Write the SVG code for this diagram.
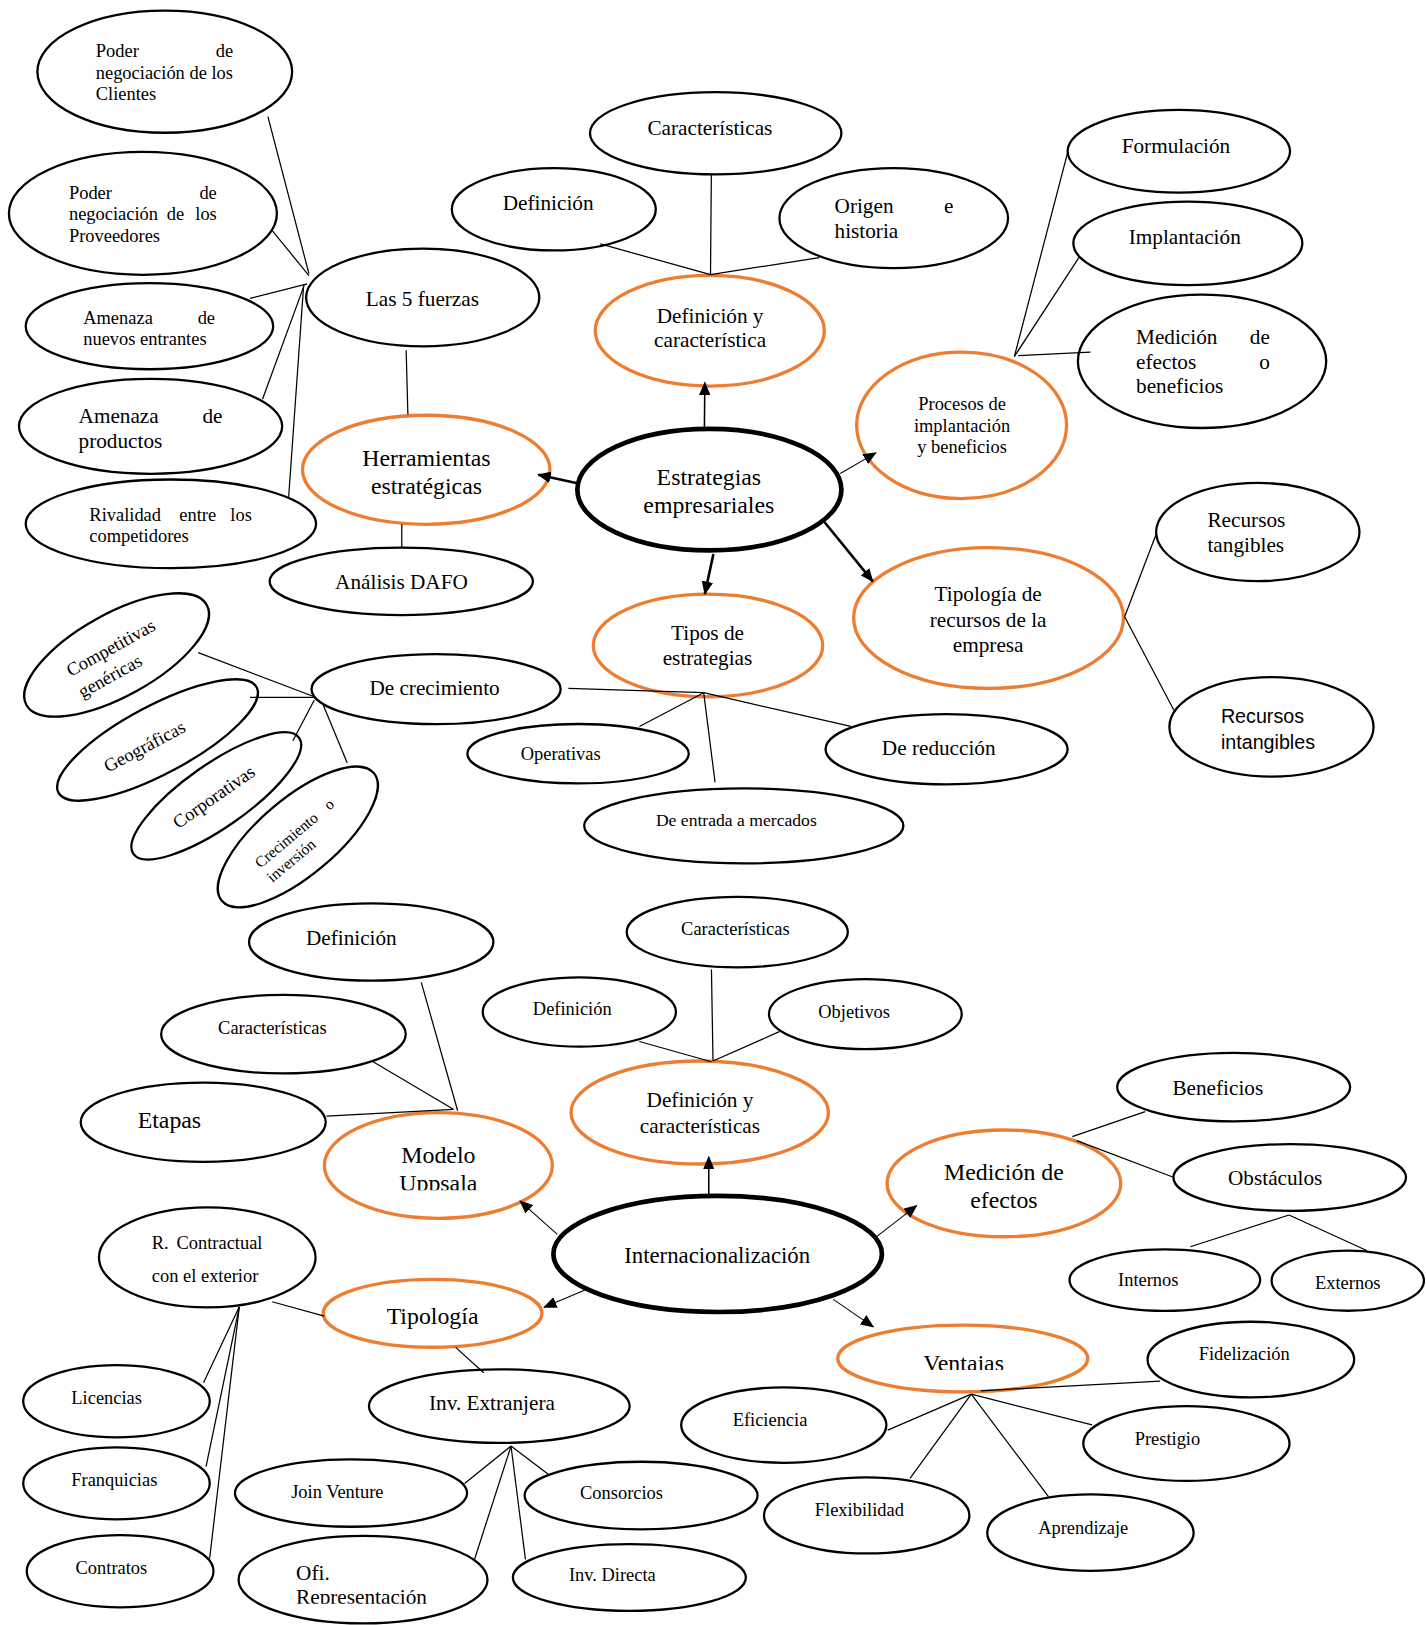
<svg xmlns="http://www.w3.org/2000/svg" width="1426" height="1625" viewBox="0 0 1426 1625">
<style>
text { font-family: "Liberation Serif", "Times New Roman", serif; fill: #000; }
.s { font-size: 17.8px; }
.m { font-size: 20.5px; }
.L { font-size: 23px; }
.x15 { font-size: 15px; }
.mid { text-anchor: middle; }
.end { text-anchor: end; }
.sans { font-family: "Liberation Sans", Arial, sans-serif; font-size: 19px; }
.n { fill: #fff; stroke: #000; stroke-width: 2.2; }
.o { fill: #fff; stroke: #ED7D31; stroke-width: 3.2; }
.k { fill: #fff; stroke: #000; stroke-width: 4.5; }
.ln { stroke: #000; stroke-width: 1.2; fill: none; }
.ar { stroke: #000; fill: none; marker-end: url(#ah); }
.t1 { stroke-width: 1; }
.t15 { stroke-width: 1.5; }
.t25 { stroke-width: 2.5; }
</style>
<defs>
<marker id="ah" markerUnits="userSpaceOnUse" markerWidth="13" markerHeight="11" refX="12" refY="5.5" orient="auto"><path d="M0,0 L13,5.5 L0,11 z" fill="#000"/></marker>
<clipPath id="cUpp" clipPathUnits="userSpaceOnUse"><rect x="300" y="1080" width="250" height="68.5"/></clipPath>
<clipPath id="cVen" clipPathUnits="userSpaceOnUse"><rect x="800" y="1280" width="260" height="42"/></clipPath>
<clipPath id="cOfi" clipPathUnits="userSpaceOnUse"><rect x="230" y="1490" width="250" height="57.5"/></clipPath>
</defs>
<rect width="1426" height="1625" fill="#fff"/>
<g transform="scale(1.03634)">

<!-- Top left cluster -->
<g id="n_poder_clientes">
<ellipse class="n" cx="159" cy="69.2" rx="122.9" ry="58.9"/>
<text class="s" x="92.4" y="54.8">Poder</text><text class="s end" x="225" y="54.8">de</text>
<text class="s" x="92.4" y="75.9">negociación de los</text>
<text class="s" x="92.4" y="96.5">Clientes</text>
</g>
<g id="n_poder_proveedores">
<ellipse class="n" cx="137.9" cy="205.9" rx="129.3" ry="59.3"/>
<text class="s" x="66.5" y="192.2">Poder</text><text class="s end" x="209.2" y="192.2">de</text>
<text class="s" x="66.5" y="212.5">negociación</text><text class="s" x="161" y="212.5">de</text><text class="s end" x="209.2" y="212.5">los</text>
<text class="s" x="66.5" y="233.5">Proveedores</text>
</g>
<g id="n_amenaza_nuevos">
<ellipse class="n" cx="144.2" cy="314.8" rx="119.4" ry="41.5"/>
<text class="s" x="80.3" y="312.9">Amenaza</text><text class="s end" x="207.5" y="312.9">de</text>
<text class="s" x="80.3" y="333.2">nuevos entrantes</text>
</g>
<g id="n_amenaza_productos">
<ellipse class="n" cx="145.3" cy="411.4" rx="127" ry="45.8"/>
<text class="m" x="75.8" y="408.4">Amenaza</text><text class="m end" x="214.7" y="408.4">de</text>
<text class="m" x="75.8" y="432">productos</text>
</g>
<g id="n_rivalidad">
<ellipse class="n" cx="164.9" cy="505.5" rx="140.1" ry="42.8"/>
<text class="s" x="86.2" y="503.1">Rivalidad</text><text class="s" x="173" y="503.1">entre</text><text class="s end" x="243" y="503.1">los</text>
<text class="s" x="86.2" y="523.4">competidores</text>
</g>
<g id="n_5fuerzas">
<ellipse class="n" cx="407.9" cy="287.1" rx="112.5" ry="47.1"/>
<text class="m mid" x="407.6" y="295.4">Las 5 fuerzas</text>
</g>
<g id="n_herramientas">
<ellipse class="o" cx="411.3" cy="453.3" rx="119.4" ry="52.6"/>
<text class="L mid" x="411.5" y="449.4">Herramientas</text>
<text class="L mid" x="411.5" y="476.4">estratégicas</text>
</g>
<g id="n_dafo">
<ellipse class="n" cx="387.2" cy="561" rx="127" ry="32.5"/>
<text class="m mid" x="387.4" y="568.6">Análisis DAFO</text>
</g>

<!-- Center -->
<g id="n_estrategias">
<ellipse class="k" cx="684.5" cy="472.5" rx="127.4" ry="58.6"/>
<text class="L mid" x="684" y="467.8">Estrategias</text>
<text class="L mid" x="684" y="494.7">empresariales</text>
</g>
<g id="n_defcar">
<ellipse class="o" cx="684.9" cy="319.1" rx="110.5" ry="53.4"/>
<text class="m mid" x="685.2" y="311.9">Definición y</text>
<text class="m mid" x="685.2" y="335.1">característica</text>
</g>
<g id="n_caracteristicas1">
<ellipse class="n" cx="690.6" cy="128.6" rx="121.3" ry="39.6"/>
<text class="m mid" x="685" y="130">Características</text>
</g>
<g id="n_definicion1">
<ellipse class="n" cx="534.4" cy="202" rx="98.4" ry="39.7"/>
<text class="m mid" x="528.9" y="202.7">Definición</text>
</g>
<g id="n_origen">
<ellipse class="n" cx="862.4" cy="210.5" rx="110.3" ry="48.3"/>
<text class="m" x="805.3" y="205.8">Origen</text><text class="m end" x="920.1" y="205.8">e</text>
<text class="m" x="805.3" y="229.2">historia</text>
</g>
<g id="n_procesos">
<ellipse class="o" cx="927.9" cy="410.4" rx="101.3" ry="70.7"/>
<text class="s mid" x="928.3" y="396.1">Procesos de</text>
<text class="s mid" x="928.3" y="417.2">implantación</text>
<text class="s mid" x="928.3" y="437.5">y beneficios</text>
</g>
<g id="n_formulacion">
<ellipse class="n" cx="1137.5" cy="146" rx="107.3" ry="39.9"/>
<text class="m mid" x="1134.7" y="147.3">Formulación</text>
</g>
<g id="n_implantacion">
<ellipse class="n" cx="1146.2" cy="234.8" rx="110.5" ry="40.3"/>
<text class="m mid" x="1143.2" y="235.6">Implantación</text>
</g>
<g id="n_medicion1">
<ellipse class="n" cx="1159.9" cy="348.6" rx="119.8" ry="64.4"/>
<text class="m" x="1096.2" y="331.7">Medición</text><text class="m end" x="1225.3" y="331.7">de</text>
<text class="m" x="1096.2" y="356.2">efectos</text><text class="m end" x="1225.3" y="356.2">o</text>
<text class="m" x="1096.2" y="379.1">beneficios</text>
</g>
<g id="n_tiprecursos">
<ellipse class="o" cx="953.9" cy="596.3" rx="130.2" ry="67.9"/>
<text class="m mid" x="953.5" y="580.3">Tipología de</text>
<text class="m mid" x="953.5" y="604.8">recursos de la</text>
<text class="m mid" x="953.5" y="628.9">empresa</text>
</g>
<g id="n_tangibles">
<ellipse class="n" cx="1213.7" cy="513.4" rx="98.1" ry="47.4"/>
<text class="m" x="1165.1" y="508.3">Recursos</text>
<text class="m" x="1165.1" y="532.9">tangibles</text>
</g>
<g id="n_intangibles">
<ellipse class="n" cx="1226.9" cy="701.4" rx="98.5" ry="48"/>
<text class="sans" x="1178.1" y="697.7">Recursos</text>
<text class="sans" x="1178.1" y="722.3">intangibles</text>
</g>
<g id="n_tipos">
<ellipse class="o" cx="683.2" cy="622.8" rx="110.7" ry="49.5"/>
<text class="m mid" x="682.7" y="617.7">Tipos de</text>
<text class="m mid" x="682.7" y="641.9">estrategias</text>
</g>
<g id="n_crecimiento">
<ellipse class="n" cx="420.8" cy="665" rx="120.2" ry="33.8"/>
<text class="m mid" x="419.3" y="670.9">De crecimiento</text>
</g>
<g id="n_operativas">
<ellipse class="n" cx="557.8" cy="727.3" rx="106.8" ry="28.7"/>
<text class="s mid" x="541" y="733.6">Operativas</text>
</g>
<g id="n_reduccion">
<ellipse class="n" cx="913.4" cy="723" rx="116.8" ry="33.9"/>
<text class="m mid" x="905.8" y="728.9">De reducción</text>
</g>
<g id="n_entrada">
<ellipse class="n" cx="717.7" cy="796.9" rx="154" ry="36.2"/>
<text class="mid" style="font-size:17px" x="710.5" y="797.3">De entrada a mercados</text>
</g>

<!-- Rotated fan -->
<g id="n_competitivas" transform="translate(112.5,632) rotate(-29)">
<ellipse class="n" rx="99.5" ry="39.8"/>
<text class="s" x="-49" y="-2.8">Competitivas</text>
<text class="s" x="-49" y="20.7">genéricas</text>
</g>
<g id="n_geograficas" transform="translate(152,714) rotate(-28)">
<ellipse class="n" rx="108.3" ry="32.9"/>
<text class="s mid" x="-14" y="5.6">Geográficas</text>
</g>
<g id="n_corporativas" transform="translate(208.7,768) rotate(-35)">
<ellipse class="n" rx="97.6" ry="30.5"/>
<text class="s mid" x="-2.5" y="5.3">Corporativas</text>
</g>
<g id="n_crec_inversion" transform="translate(287.4,807.6) rotate(-40)">
<ellipse class="n" rx="95.8" ry="37.2"/>
<text class="x15" x="-47.5" y="0.2">Crecimiento</text><text class="x15 end" x="47" y="0.2">o</text>
<text class="x15" x="-47.5" y="18.3">inversión</text>
</g>

<!-- Lower half -->
<g id="n_internacionalizacion">
<ellipse class="k" cx="692.5" cy="1210" rx="158.5" ry="56"/>
<text class="mid" style="font-size:22px" x="692" y="1218.9">Internacionalización</text>
</g>
<g id="n_defcar2">
<ellipse class="o" cx="675.2" cy="1073.5" rx="124.2" ry="49.7"/>
<text class="m mid" x="675.4" y="1067.9">Definición y</text>
<text class="m mid" x="675.4" y="1092.8">características</text>
</g>
<g id="n_caracteristicas2">
<ellipse class="n" cx="711.4" cy="899.4" rx="106.7" ry="34"/>
<text class="s mid" x="709.6" y="902.5">Características</text>
</g>
<g id="n_definicion2">
<ellipse class="n" cx="559" cy="976.5" rx="93.2" ry="33.5"/>
<text class="s mid" x="552.2" y="979.6">Definición</text>
</g>
<g id="n_objetivos">
<ellipse class="n" cx="835" cy="978.5" rx="93" ry="33.8"/>
<text class="s mid" x="824.2" y="981.9">Objetivos</text>
</g>
<g id="n_uppsala">
<ellipse class="o" cx="423" cy="1124.6" rx="110" ry="51"/>
<g clip-path="url(#cUpp)">
<text class="L mid" x="423" y="1122">Modelo</text>
<text class="L mid" x="423" y="1149.5">Uppsala</text>
</g>
</g>
<g id="n_definicion3">
<ellipse class="n" cx="358.2" cy="909" rx="117.9" ry="37.3"/>
<text class="m mid" x="339" y="912.1">Definición</text>
</g>
<g id="n_caracteristicas3">
<ellipse class="n" cx="273.5" cy="997.9" rx="118" ry="37.9"/>
<text class="s mid" x="262.8" y="998">Características</text>
</g>
<g id="n_etapas">
<ellipse class="n" cx="196.1" cy="1082.9" rx="118.2" ry="38.2"/>
<text class="L" x="132.8" y="1088.2">Etapas</text>
</g>
<g id="n_medicion2">
<ellipse class="o" cx="968.7" cy="1141.9" rx="112.7" ry="51.5"/>
<text class="L mid" x="968.7" y="1139">Medición de</text>
<text class="L mid" x="968.7" y="1165.3">efectos</text>
</g>
<g id="n_beneficios">
<ellipse class="n" cx="1190.4" cy="1049" rx="112.4" ry="33"/>
<text class="m mid" x="1175.1" y="1056.8">Beneficios</text>
</g>
<g id="n_obstaculos">
<ellipse class="n" cx="1244.5" cy="1136.2" rx="112.2" ry="32.2"/>
<text class="m mid" x="1230.5" y="1143.6">Obstáculos</text>
</g>
<g id="n_internos">
<ellipse class="n" cx="1124" cy="1235.2" rx="92" ry="29.7"/>
<text class="s mid" x="1108" y="1240.8">Internos</text>
</g>
<g id="n_externos">
<ellipse class="n" cx="1300.5" cy="1235.8" rx="73.5" ry="29"/>
<text class="s mid" x="1300.5" y="1243.4">Externos</text>
</g>
<g id="n_tipologia">
<ellipse class="o" cx="417.4" cy="1267.3" rx="105.5" ry="32.7"/>
<text class="L mid" x="417.4" y="1277.3">Tipología</text>
</g>
<g id="n_rcontractual">
<ellipse class="n" cx="200" cy="1213.3" rx="104.5" ry="48.3"/>
<text class="s" x="146.5" y="1205.5">R.</text><text class="s end" x="253.3" y="1205.5">Contractual</text>
<text class="s" x="146.5" y="1237.1">con el exterior</text>
</g>
<g id="n_licencias">
<ellipse class="n" cx="112.4" cy="1352.1" rx="90" ry="34.9"/>
<text class="s mid" x="102.9" y="1355">Licencias</text>
</g>
<g id="n_franquicias">
<ellipse class="n" cx="112.4" cy="1431.3" rx="90" ry="34.7"/>
<text class="s mid" x="110.3" y="1433.7">Franquicias</text>
</g>
<g id="n_contratos">
<ellipse class="n" cx="115.9" cy="1516.1" rx="90.1" ry="34.9"/>
<text class="s mid" x="107.5" y="1519.1">Contratos</text>
</g>
<g id="n_invext">
<ellipse class="n" cx="481.8" cy="1356.8" rx="125.8" ry="35.5"/>
<text class="m mid" x="474.7" y="1360.7">Inv. Extranjera</text>
</g>
<g id="n_joinventure">
<ellipse class="n" cx="338.7" cy="1440.7" rx="112" ry="32.5"/>
<text class="s mid" x="325.5" y="1445.1">Join Venture</text>
</g>
<g id="n_consorcios">
<ellipse class="n" cx="618.6" cy="1443.1" rx="112.4" ry="32.6"/>
<text class="s mid" x="599.7" y="1446.7">Consorcios</text>
</g>
<g id="n_ofi">
<ellipse class="n" cx="350.3" cy="1524.3" rx="120.1" ry="42.2"/>
<g clip-path="url(#cOfi)">
<text class="m" x="285.7" y="1524.6">Ofi.</text>
<text class="m" x="285.7" y="1548">Representación</text>
</g>
</g>
<g id="n_invdirecta">
<ellipse class="n" cx="607.3" cy="1522.2" rx="112.4" ry="32.2"/>
<text class="s mid" x="590.9" y="1525.6">Inv. Directa</text>
</g>
<g id="n_ventajas">
<ellipse class="o" cx="929" cy="1310.8" rx="120.6" ry="32.2"/>
<g clip-path="url(#cVen)">
<text class="L mid" x="929.8" y="1322.5">Ventajas</text>
</g>
</g>
<g id="n_fidelizacion">
<ellipse class="n" cx="1207" cy="1311.9" rx="99.7" ry="36.5"/>
<text class="s mid" x="1200.6" y="1312.3">Fidelización</text>
</g>
<g id="n_eficiencia">
<ellipse class="n" cx="756.3" cy="1375.1" rx="99" ry="36.4"/>
<text class="s mid" x="743" y="1376">Eficiencia</text>
</g>
<g id="n_prestigio">
<ellipse class="n" cx="1144.8" cy="1392.9" rx="99.5" ry="36.1"/>
<text class="s mid" x="1126.5" y="1394.6">Prestigio</text>
</g>
<g id="n_flexibilidad">
<ellipse class="n" cx="836.3" cy="1462.3" rx="99.1" ry="36.7"/>
<text class="s mid" x="829.2" y="1462.7">Flexibilidad</text>
</g>
<g id="n_aprendizaje">
<ellipse class="n" cx="1052.2" cy="1478.9" rx="99.6" ry="36.9"/>
<text class="s mid" x="1045.2" y="1480.4">Aprendizaje</text>
</g>

<!-- Connectors -->
<g id="connectors">
<line class="ln" x1="258.5" y1="112.6" x2="298.1" y2="264"/>
<line class="ln" x1="261.9" y1="221.6" x2="298.1" y2="265.9"/>
<line class="ln" x1="241.2" y1="288" x2="296.4" y2="274"/>
<line class="ln" x1="253.3" y1="385.2" x2="293.6" y2="275.1"/>
<line class="ln" x1="278.5" y1="480" x2="293" y2="275.1"/>
<line class="ln" x1="391.9" y1="337.9" x2="393.6" y2="400"/>
<line class="ln" x1="387.7" y1="505.9" x2="387.7" y2="528.8"/>
<line class="ln" x1="579.3" y1="235.4" x2="685.6" y2="265"/>
<line class="ln" x1="686.4" y1="168.2" x2="685.6" y2="265"/>
<line class="ln" x1="790.6" y1="248.5" x2="685.6" y2="265"/>
<line class="ln" x1="1030.2" y1="147.2" x2="978.8" y2="344"/>
<line class="ln" x1="1041.2" y1="248.4" x2="978.8" y2="344"/>
<line class="ln" x1="1052.2" y1="339.7" x2="982.5" y2="343.2"/>
<line class="ln" x1="1085.2" y1="595.2" x2="1115.6" y2="515.5"/>
<line class="ln" x1="1085.2" y1="595.2" x2="1132.9" y2="685.6"/>
<line class="ln" x1="548.5" y1="664.2" x2="679" y2="668.4"/>
<line class="ln" x1="617" y1="701" x2="679" y2="668.4"/>
<line class="ln" x1="690" y1="755" x2="679" y2="668.4"/>
<line class="ln" x1="821" y1="701" x2="679" y2="668.4"/>
<line class="ln" x1="191.3" y1="629.8" x2="303.3" y2="672.3"/>
<line class="ln" x1="241.2" y1="673" x2="303.3" y2="673"/>
<line class="ln" x1="282.6" y1="714.8" x2="303.3" y2="675.5"/>
<line class="ln" x1="335" y1="736.1" x2="311.9" y2="680.3"/>
<line class="ln" x1="617" y1="1005" x2="686.5" y2="1024.5"/>
<line class="ln" x1="686.5" y1="935.4" x2="688" y2="1023.8"/>
<line class="ln" x1="752" y1="995.5" x2="688" y2="1023.8"/>
<line class="ln" x1="406.5" y1="948" x2="441.6" y2="1071.8"/>
<line class="ln" x1="360" y1="1024.5" x2="437.5" y2="1070.4"/>
<line class="ln" x1="315" y1="1077" x2="437.5" y2="1070.4"/>
<line class="ln" x1="1034.7" y1="1096.8" x2="1105" y2="1072.7"/>
<line class="ln" x1="1038.9" y1="1100.7" x2="1132.3" y2="1136"/>
<line class="ln" x1="1243.8" y1="1172.4" x2="1148.6" y2="1203"/>
<line class="ln" x1="1243.8" y1="1172.4" x2="1319.3" y2="1206.9"/>
<line class="ln" x1="262.6" y1="1256.1" x2="312.9" y2="1270"/>
<line class="ln" x1="230.9" y1="1261" x2="196.4" y2="1334.2"/>
<line class="ln" x1="230.9" y1="1261" x2="198.8" y2="1415.3"/>
<line class="ln" x1="230.9" y1="1261" x2="202.3" y2="1503.7"/>
<line class="ln" x1="439.7" y1="1300.1" x2="466.7" y2="1324.6"/>
<line class="ln" x1="493.1" y1="1395.3" x2="448.3" y2="1431.4"/>
<line class="ln" x1="493.1" y1="1395.3" x2="528.7" y2="1422.4"/>
<line class="ln" x1="493.1" y1="1395.3" x2="457.7" y2="1505.3"/>
<line class="ln" x1="493.1" y1="1395.3" x2="507" y2="1504.7"/>
<line class="ln" x1="946.2" y1="1342" x2="1119.4" y2="1332.6"/>
<line class="ln" x1="937.2" y1="1345.2" x2="856.6" y2="1380"/>
<line class="ln" x1="937.2" y1="1345.2" x2="878.1" y2="1426.5"/>
<line class="ln" x1="937.2" y1="1345.2" x2="1011.7" y2="1444.2"/>
<line class="ln" x1="937.2" y1="1345.2" x2="1053.8" y2="1375"/>
<line class="ar t25" x1="557.1" y1="466.3" x2="519.4" y2="458"/>
<line class="ar t15" x1="679.7" y1="413.2" x2="680.1" y2="369.1"/>
<line class="ar t1" x1="810.8" y1="456.9" x2="845.2" y2="437"/>
<line class="ar t25" x1="688.4" y1="534.5" x2="680.1" y2="573.1"/>
<line class="ar t25" x1="795.3" y1="503.5" x2="842.2" y2="561"/>
<line class="ar t15" x1="683.9" y1="1153.9" x2="683.9" y2="1116.3"/>
<line class="ar t1" x1="537.8" y1="1191.1" x2="501.8" y2="1158.9"/>
<line class="ar t1" x1="845.9" y1="1193.3" x2="884.5" y2="1163.3"/>
<line class="ar t1" x1="564.5" y1="1244.8" x2="525" y2="1261.4"/>
<line class="ar t1" x1="804" y1="1253.8" x2="842.7" y2="1280.3"/>
</g>
</g>
</svg>
